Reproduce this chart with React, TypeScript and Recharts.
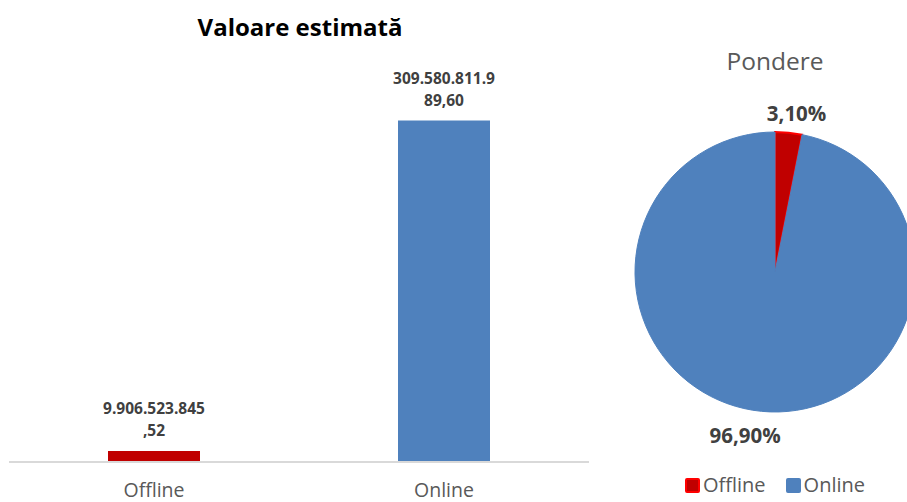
import React from "react";
import { BarChart, Bar, XAxis, YAxis, Cell, LabelList, PieChart, Pie, Legend } from "recharts";

const categories = ["Offline", "Online"];
const values = [9906523845.52, 309580811989.6];
const fillColors = ["#C00000", "#4F81BD"];
const strokeColors = ["#FF0000", "#4F81BD"];
const barTitle = "Valoare estimată";
const pieTitle = "Pondere";
const yMax = 350000000000;

const FONT = "'Open Sans', sans-serif";

function fmtRo(v: number): string {
  const [i, d] = v.toFixed(2).split(".");
  return i.replace(/\B(?=(\d{3})+(?!\d))/g, ".") + "," + d;
}

const total = values.reduce((a, b) => a + b, 0);
const barData = categories.map((c, i) => ({ name: c, value: values[i], label: fmtRo(values[i]) }));
const pieData = categories.map((c, i) => ({
  name: c,
  value: values[i],
  share: ((values[i] / total) * 100).toFixed(2).replace(".", ",") + "%",
}));

const BarValueLabel = (props: any) => {
  const { x, y, width, index } = props;
  const s: string = barData[index].label;
  const l1 = s.slice(0, 13);
  const l2 = s.slice(13);
  const cx = x + width / 2;
  return (
    <g>
      <text x={cx} y={y - 43} textAnchor="middle" dominantBaseline="central" fontFamily={FONT} fontWeight={700} fontSize={15.5} fill="#404040">
        {l1}
      </text>
      <text x={cx} y={y - 21} textAnchor="middle" dominantBaseline="central" fontFamily={FONT} fontWeight={700} fontSize={15.5} fill="#404040">
        {l2}
      </text>
    </g>
  );
};

const CatTick = (props: any) => {
  const { x, y, payload } = props;
  return (
    <text x={x} y={y + 19} textAnchor="middle" dominantBaseline="central" fontFamily={FONT} fontSize={19.5} fill="#595959">
      {payload.value}
    </text>
  );
};

const labelOffsets = [
  { r: 20, dx: 6 },
  { r: 24, dx: -14 },
];

const PieLabel = (props: any) => {
  const { cx, cy, midAngle, outerRadius, index } = props;
  const o = labelOffsets[index];
  const rad = (-midAngle * Math.PI) / 180;
  const x = cx + (outerRadius + o.r) * Math.cos(rad) + o.dx;
  const y = cy + (outerRadius + o.r) * Math.sin(rad);
  return (
    <text x={x} y={y} textAnchor="middle" dominantBaseline="central" fontFamily={FONT} fontWeight={700} fontSize={20.5} fill="#404040">
      {pieData[index].share}
    </text>
  );
};

const LegendContent = (props: any) => {
  const { payload } = props;
  return (
    <div style={{ display: "flex", justifyContent: "center", alignItems: "center", fontFamily: FONT, fontSize: 20, color: "#595959", lineHeight: "26px" }}>
      {(payload || []).map((p: any, i: number) => (
        <div key={i} style={{ display: "flex", alignItems: "center", marginRight: i === 0 ? 20 : 0 }}>
          <span
            style={{
              display: "inline-block",
              width: 11,
              height: 11,
              background: fillColors[i],
              border: `2px solid ${strokeColors[i]}`,
              borderRadius: 2,
              marginRight: 3,
            }}
          />
          <span>{p.value}</span>
        </div>
      ))}
    </div>
  );
};

export default function App() {
  return (
    <div style={{ position: "absolute", left: 0, top: 0, width: 907, height: 502, overflow: "hidden", background: "#fff" }}>
      <div
        style={{
          position: "absolute",
          left: 100,
          width: 400,
          top: 11,
          textAlign: "center",
          fontFamily: FONT,
          fontWeight: 700,
          fontSize: 24,
          color: "#000",
          lineHeight: "32px",
        }}
      >
        {barTitle}
      </div>
      <div
        style={{
          position: "absolute",
          left: 620,
          width: 310,
          top: 45,
          textAlign: "center",
          fontFamily: FONT,
          fontSize: 24.5,
          color: "#595959",
          lineHeight: "32px",
        }}
      >
        {pieTitle}
      </div>
      <div style={{ position: "absolute", left: 0, top: 0 }}>
        <BarChart width={600} height={502} data={barData} margin={{ top: 76, right: 11, left: 9, bottom: 0 }} barCategoryGap={0}>
          <XAxis dataKey="name" height={40} axisLine={{ stroke: "#D9D9D9", strokeWidth: 2 }} tickLine={false} tick={<CatTick />} interval={0} />
          <YAxis hide domain={[0, yMax]} />
          <Bar dataKey="value" barSize={92} isAnimationActive={false}>
            {barData.map((d, i) => (
              <Cell key={d.name} fill={fillColors[i]} />
            ))}
            <LabelList dataKey="value" content={<BarValueLabel />} />
          </Bar>
        </BarChart>
      </div>
      <div style={{ position: "absolute", left: 620, top: 0 }}>
        <PieChart width={310} height={502} margin={{ top: 0, right: 0, bottom: 0, left: 0 }}>
          <Pie
            data={pieData}
            dataKey="value"
            nameKey="name"
            cx={155}
            cy={272}
            outerRadius={140}
            startAngle={90}
            endAngle={-270}
            isAnimationActive={false}
            label={<PieLabel />}
            labelLine={false}
          >
            {pieData.map((d, i) => (
              <Cell key={d.name} fill={fillColors[i]} stroke={strokeColors[i]} strokeWidth={i === 0 ? 2 : 1} />
            ))}
          </Pie>
          <Legend content={<LegendContent />} wrapperStyle={{ position: "absolute", left: 0, top: 472, width: 310 }} />
        </PieChart>
      </div>
    </div>
  );
}
